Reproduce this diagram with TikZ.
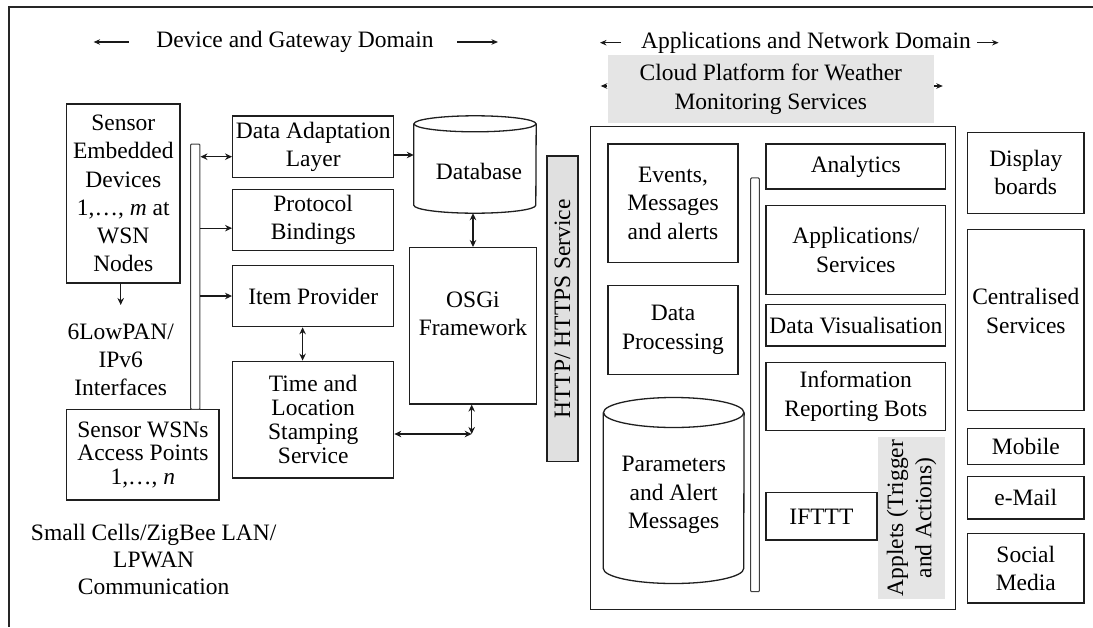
\documentclass[tikz,border=0pt]{standalone}
\usepackage{fontspec}
\setmainfont{Liberation Serif}
\usetikzlibrary{arrows.meta,positioning}

\begin{document}
\begin{tikzpicture}[
  x=1pt, y=-1pt,
  font=\fontsize{23.5}{28.3}\selectfont,
  box/.style={draw=black!88, line width=1.3pt, align=center, inner sep=1pt, fill=white},
  midbox/.style={box, minimum width=161},
  appbox/.style={box, minimum width=179.6},
  outbox/.style={box, minimum width=116.5},
  plain/.style={align=center, inner sep=1pt},
  greybox/.style={fill=black!10, align=center, inner sep=1pt},
  bar/.style={draw=black!75, line width=1pt, fill=white, rounded corners=1pt, inner sep=0pt},
  cylline/.style={draw=black!88, line width=1.3pt},
  arr/.style={-{Stealth[length=7pt,width=6.5pt]}, line width=1.2pt, draw=black!90},
  dbl/.style={{Stealth[length=7pt,width=6.5pt]}-{Stealth[length=7pt,width=6.5pt]}, line width=1.2pt, draw=black!90},
  harr/.style={-{Stealth[length=6.5pt,width=5.5pt]}, line width=1.2pt, draw=black!90}
]
\useasboundingbox (0,0) rectangle (1093,627);
\draw[line width=1.3pt, black!85] (1093,7) -- (9,7) -- (9,627);

% domain headings
\node[plain] (dgd) at (295,42) {Device and Gateway Domain};
\node[plain] (and) at (806,42.7) {Applications and Network Domain};
\coordinate (dgdla) at (128.6,42);
\coordinate (dgdlb) at (93.6,42);
\coordinate (dgdra) at (457,42);
\coordinate (dgdrb) at (498,42);
\coordinate (andla) at (621,42.7);
\coordinate (andlb) at (600,42.7);
\coordinate (andra) at (977,42.7);
\coordinate (andrb) at (998.6,42.7);

% device and gateway side
\node[box, minimum width=113.3, minimum height=179] (sed) at (123.3,193.5) {Sensor\\Embedded\\Devices\\1,…, \textit{m} at\\WSN\\Nodes};
\node[plain] (lowpan) at (120.7,360) {6LowPAN/\\IPv6\\Interfaces};
\node[box, minimum width=152.3, minimum height=90.7, font=\fontsize{23.5}{23.5}\selectfont] (wsn) at (142.9,454.7) {Sensor WSNs\\Access Points\\1,…, \textit{n}};
\node[plain, font=\fontsize{23.5}{27}\selectfont] (lan) at (153.7,559.5) {Small Cells/ZigBee LAN/\\LPWAN\\Communication};
\node[bar, minimum width=9.3, minimum height=265.3] (lbus) at (195.3,276.7) {};

\node[midbox, minimum height=61.3] (dal) at (313.2,146.7) {Data Adaptation\\Layer};
\node[midbox, minimum height=61, below=11pt of dal] (pb) {Protocol\\Bindings};
\node[midbox, minimum height=61.3, below=13.4pt of pb] (ip) {Item Provider};
\node[midbox, minimum height=116.7, below=33.3pt of ip, font=\fontsize{23.5}{24}\selectfont] (tls) {Time and\\Location\\Stamping\\Service};

\node[minimum width=122, minimum height=97, inner sep=0pt] (db) at (475,164.5) {};
\draw[cylline] ([yshift=-8pt]db.north) ellipse [x radius=61pt, y radius=8pt];
\draw[cylline] ([yshift=-8pt]db.north west) -- ([yshift=8pt]db.south west)
  arc[start angle=180, end angle=360, x radius=61pt, y radius=8pt] -- ([yshift=-8pt]db.north east);
\node[plain] (dbtxt) at (479,171.7) {Database};

\node[box, minimum width=127.4, minimum height=156.3] (osgi) at (473,325.8) {};
\node[plain] (osgitxt) at ([yshift=12pt]osgi.center) {OSGi\\Framework};

\node[box, fill=black!12, rotate=90, minimum width=305.7, minimum height=31] (http) at (562.5,308.8) {HTTP/ HTTPS Service};

% applications and network side
\node[greybox, minimum width=326.3, minimum height=68.3] (cloud) at (770.8,89.2) {Cloud Platform for Weather\\Monitoring Services};
\coordinate (cloudl) at (600.7,86);
\coordinate (cloudr) at (942.8,86);
\node[box, minimum width=365.1, minimum height=482.6] (plat) at (773,368) {};

\node[box, minimum width=130, minimum height=118.7] (ev) at (673,203.3) {Events,\\Messages\\and alerts};
\node[box, minimum width=130, minimum height=89.3, below=21.3pt of ev] (dp) {Data\\Processing};

\node[minimum width=140.4, minimum height=185.6, inner sep=0pt] (par) at (673.7,490.5) {};
\draw[cylline] ([yshift=-15pt]par.north) ellipse [x radius=70.2pt, y radius=15pt];
\draw[cylline] ([yshift=-15pt]par.north west) -- ([yshift=15pt]par.south west)
  arc[start angle=180, end angle=360, x radius=70.2pt, y radius=15pt] -- ([yshift=-15pt]par.north east);
\node[plain] (partxt) at (673.7,495) {Parameters\\and Alert\\Messages};

\node[bar, minimum width=8.8, minimum height=413.7] (ibus) at (755,384.8) {};

\node[appbox, minimum height=45] (an) at (855.8,166.5) {Analytics};
\node[appbox, minimum height=89.3, below=15pt of an] (aps) {Applications/\\Services};
\node[appbox, minimum height=41.6, below=8.4pt of aps] (dv) {Data Visualisation};
\node[appbox, minimum height=68.4, below=15pt of dv] (irb) {Information\\Reporting Bots};
\node[box, minimum width=110.9, minimum height=47.3] (ifttt) at (821.4,516.3) {IFTTT};
\node[greybox, rotate=90, minimum width=162.6, minimum height=67] (applets) at (911.5,518) {Applets (Trigger\\and Actions)};

\node[outbox, minimum height=81] (disp) at (1025.8,172.8) {Display\\boards};
\node[outbox, minimum height=181, below=15pt of disp] (cent) {};
\node[plain] (centtxt) at ([yshift=9pt]cent.center) {Centralised\\Services};
\node[outbox, minimum height=35.7, below=16.7pt of cent] (mob) {Mobile};
\node[outbox, minimum height=42.7, below=10.6pt of mob] (mail) {e-Mail};
\node[outbox, minimum height=69.4, below=13.3pt of mail] (soc) {Social\\Media};

% connectors
\coordinate (sedend) at (120.7,305);
\coordinate (dain) at ([yshift=-10pt]dal.west);
\coordinate (daout) at ([yshift=-8.3pt]dal.east);
\coordinate (pbin) at ([yshift=-8pt]pb.west);
\coordinate (tj) at (471.7,434);

\draw[harr] (dgdla) -- (dgdlb);
\draw[harr] (dgdra) -- (dgdrb);
\draw[harr] (andla) -- (andlb);
\draw[harr] (andra) -- (andrb);
\draw[harr] (cloud.west |- cloudl) -- (cloudl);
\draw[harr] (cloud.east |- cloudr) -- (cloudr);

\draw[arr] (sed.south -| sedend) -- (sedend);
\draw[dbl] (lbus.east |- dain) -- (dain);
\draw[arr] (lbus.east |- pbin) -- (pbin);
\draw[arr] (lbus.east |- ip.west) -- (ip.west);
\draw[arr] (daout) -- (db.west |- daout);
\draw[dbl] ([xshift=-10.6pt]ip.south) -- ([xshift=-10.6pt]tls.north);
\draw[dbl] (osgi.north |- db.south) -- (osgi.north);
\draw[dbl] (tls.east |- tj) -- (tj);
\draw[dbl] (osgi.south -| tj) -- (tj);
\end{tikzpicture}
\end{document}
